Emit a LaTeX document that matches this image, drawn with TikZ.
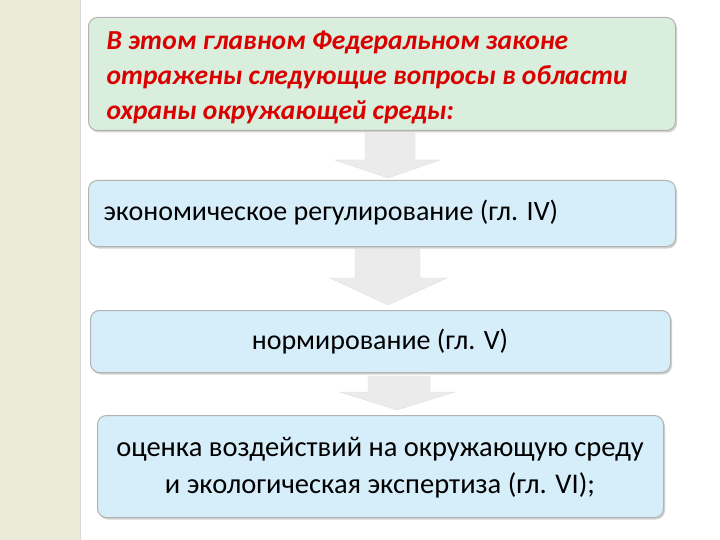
\documentclass[tikz,border=0pt]{standalone}
\usepackage{fontspec}
\setmainfont{Carlito}
\usetikzlibrary{shadows}
\begin{document}
\begin{tikzpicture}[x=1pt,y=-1pt,
  box/.style={draw=gray!60,line width=1pt,rounded corners=9pt,drop shadow={shadow xshift=1.5pt,shadow yshift=-2pt,opacity=0.35}},
  arr/.style={fill=black!8,draw=black!12}]
\useasboundingbox (0,0) rectangle (720,540);
\fill[white] (0,0) rectangle (720,540);
\fill[green!6!yellow!8!white!92!black] (0,0) rectangle (80,540);
\fill[black!15] (80,0) rectangle (81,540);
\node[box,fill={rgb,255:red,218;green,238;blue,222},minimum width=587,minimum height=113,anchor=north west] (b1) at (88,17) {};
\node[anchor=west,align=left,text=red!85!black,font=\fontsize{27.5}{35}\selectfont\bfseries\itshape] (t1) at (103,77) {В этом главном Федеральном законе\\отражены следующие вопросы в области\\охраны окружающей среды:};
\node[box,fill={rgb,255:red,214;green,238;blue,250},minimum width=587,minimum height=66,anchor=north west] (b2) at (88,180) {};
\node[anchor=west,font=\fontsize{28}{30}\selectfont] (t2) at (100,213) {экономическое регулирование (гл. IV)};
\node[box,fill={rgb,255:red,214;green,238;blue,250},minimum width=580,minimum height=62,anchor=north west] (b3) at (90,310) {};
\node[font=\fontsize{28}{30}\selectfont] (t3) at (380,342) {нормирование (гл. V)};
\node[box,fill={rgb,255:red,214;green,238;blue,250},minimum width=566,minimum height=102,anchor=north west] (b4) at (97,415) {};
\node[align=center,font=\fontsize{28.5}{37}\selectfont] (t4) at (380,468) {оценка воздействий на окружающую среду\\и экологическая экспертиза (гл. VI);};
\draw[arr] (365,133) -- (415,133) -- (415,160) -- (440,160) -- (388,178) -- (335,160) -- (365,160) -- cycle;
\draw[arr] (355,249) -- (420,249) -- (420,278) -- (447,278) -- (388,305) -- (330,278) -- (355,278) -- cycle;
\draw[arr] (368,376) -- (430,376) -- (430,392) -- (455,392) -- (397,410) -- (340,392) -- (368,392) -- cycle;
\end{tikzpicture}
\end{document}
